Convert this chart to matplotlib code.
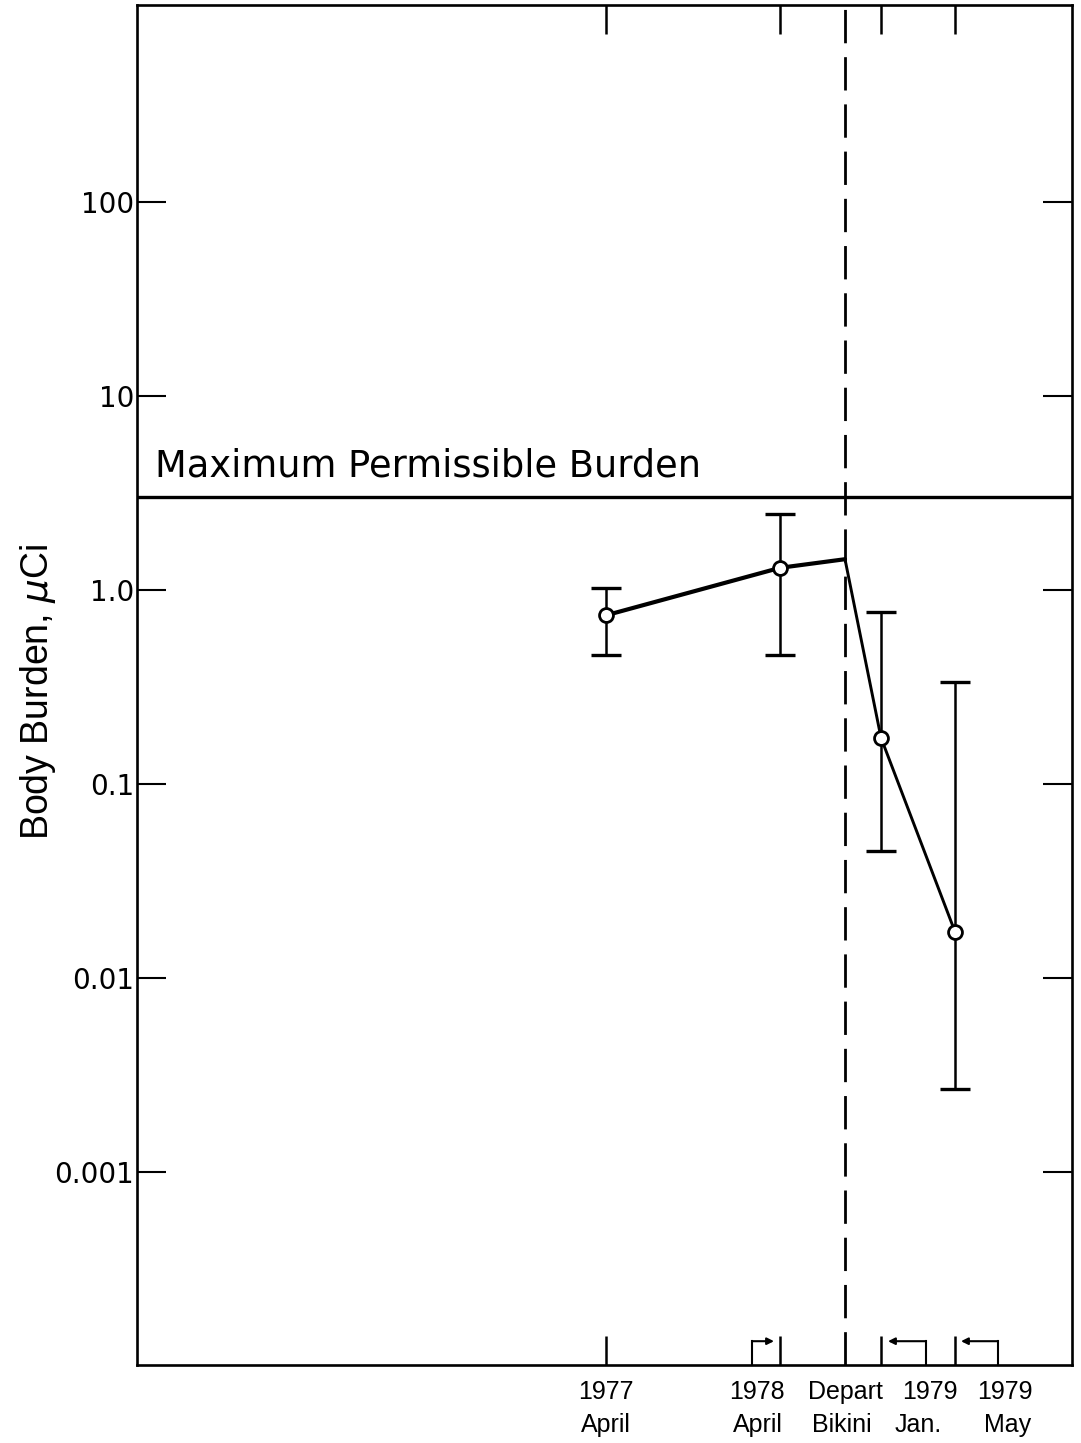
import matplotlib
matplotlib.use("Agg")
import matplotlib.pyplot as plt
import numpy as np

# ---- data ----
event_labels_top = ["1977", "1978", "Depart", "1979", "1979"]
event_labels_bot = ["April", "April", "Bikini", "Jan.", "May"]
# timeline position of each event (arbitrary schematic axis units)
event_x = [606, 780, 845, 881, 955]

# measured points (mean and error range), µCi
meas_x = [606, 780, 881, 955]
meas_mean = [0.74, 1.30, 0.173, 0.0173]
meas_low = [0.46, 0.46, 0.045, 0.00268]
meas_high = [1.02, 2.46, 0.77, 0.336]

# curve through the points (includes the departure peak)
curve_x = [606, 780, 845, 881, 955]
curve_y = [0.74, 1.30, 1.44, 0.173, 0.0173]

mpb_value = 3.0
ytick_vals = [0.001, 0.01, 0.1, 1.0, 10, 100]
ytick_labels = ["0.001", "0.01", "0.1", "1.0", "10", "100"]
xtick_marks = [606, 780, 881, 955]

# ---- figure ----
W, H = 1081, 1443
fig = plt.figure(figsize=(W / 100, H / 100), dpi=100)
ax = fig.add_axes([137 / W, 1 - 1365 / H, (1072 - 137) / W, (1365 - 5) / H])

ax.set_yscale("log")
ax.set_xlim(137, 1072)
ax.set_ylim(10 ** -3.995, 10 ** 3.015)

for s in ax.spines.values():
    s.set_linewidth(1.9)

ax.set_yticks(ytick_vals)
ax.set_yticklabels(ytick_labels, fontsize=20, family="DejaVu Sans")
ax.yaxis.set_minor_locator(matplotlib.ticker.NullLocator())
ax.tick_params(axis="y", which="major", direction="in", length=21, width=1.5,
               left=True, right=True, labelleft=True, labelright=False, pad=2)

ax.set_xticks(xtick_marks)
ax.set_xticklabels([])
ax.tick_params(axis="x", which="major", direction="in", length=21, width=1.8,
               top=True, bottom=True)

# Maximum permissible burden
ax.axhline(mpb_value, color="black", lw=2.4)
ax.text(155, 3.85, "Maximum Permissible Burden", fontsize=26.5,
        family="DejaVu Sans", ha="left", va="baseline")

# Departure dashed line
ax.axvline(event_x[2], color="black", lw=2.0, linestyle=(0, (12, 5)))

# curve
ax.plot(curve_x[:3], curve_y[:3], color="black", lw=3.0, zorder=3,
        solid_capstyle="round")
ax.plot(curve_x[2:], curve_y[2:], color="black", lw=2.1, zorder=3,
        solid_capstyle="round")

# error bars + markers
yerr = [np.array(meas_mean) - np.array(meas_low),
        np.array(meas_high) - np.array(meas_mean)]
ax.errorbar(meas_x, meas_mean, yerr=yerr, fmt="none", ecolor="black",
            elinewidth=1.8, capsize=11, capthick=2.4, zorder=2)
ax.plot(meas_x, meas_mean, "o", ms=10, mfc="white", mec="black", mew=2.0, zorder=4)

# small bracket arrows near the bottom axis
tr = ax.get_xaxis_transform()
def bracket(x_from, x_to):
    yh = 0.0175
    ax.plot([x_from, x_from], [0.0, yh], color="black", lw=1.5, transform=tr,
            clip_on=False)
    ax.annotate("", xy=(x_to, yh), xytext=(x_from, yh), xycoords=tr,
                textcoords=tr,
                arrowprops=dict(arrowstyle="-|>", color="black", lw=1.5,
                                mutation_scale=10, shrinkA=0, shrinkB=0))

bracket(752, 774)
bracket(926, 888)
bracket(998, 961)

# x labels (two rows, each word placed under its event)
row1_cx = [606, 757, 845, 930, 1005]
row2_cx = [606, 758, 842, 918, 1008]
for cx, t in zip(row1_cx, event_labels_top):
    ax.text(cx, -0.0195, t, transform=tr, ha="center", va="center",
            fontsize=18, family="Liberation Sans")
for cx, t in zip(row2_cx, event_labels_bot):
    ax.text(cx, -0.044, t, transform=tr, ha="center", va="center",
            fontsize=18, family="Liberation Sans")

ax.set_ylabel(r"Body Burden, $\mu$Ci", fontsize=27, family="Liberation Sans")
ax.yaxis.set_label_coords(-0.085, 0.495)

fig.savefig("out.png", dpi=100)
